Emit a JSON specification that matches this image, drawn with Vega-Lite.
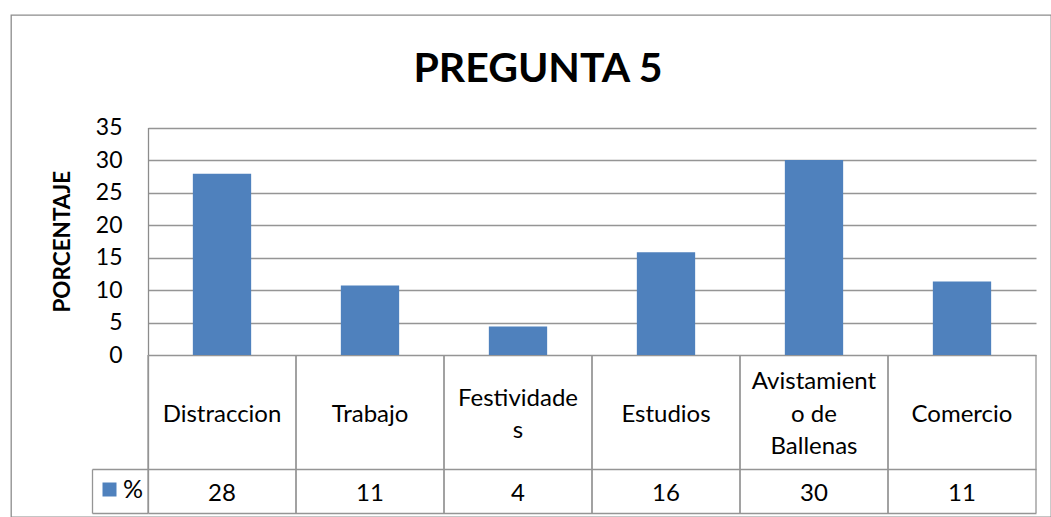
{
  "$schema": "https://vega.github.io/schema/vega-lite/v6.json",
  "width": 1040,
  "height": 502,
  "padding": {"left": 11, "top": 15, "right": 0, "bottom": 0},
  "background": "white",
  "config": {
    "view": {"stroke": "#8c8c8c", "strokeWidth": 1.3},
    "font": "Lato"
  },
  "title": {
    "text": "PREGUNTA 5",
    "font": "Lato",
    "fontSize": 41,
    "fontWeight": "bold",
    "color": "#000000",
    "anchor": "middle",
    "frame": "group",
    "offset": -108,
    "dx": 7,
    "baseline": "alphabetic"
  },
  "data": {
    "values": [
      {"cat": "Distraccion", "label": "Distraccion", "pct": 27.9},
      {"cat": "Trabajo", "label": "Trabajo", "pct": 10.7},
      {"cat": "Festividades", "label": "Festividade\ns", "pct": 4.4},
      {"cat": "Estudios", "label": "Estudios", "pct": 15.8},
      {"cat": "Avistamiento de Ballenas", "label": "Avistamient\no de\nBallenas", "pct": 30},
      {"cat": "Comercio", "label": "Comercio", "pct": 11.3}
    ]
  },
  "encoding": {
    "x": {
      "field": "cat",
      "type": "nominal",
      "sort": null,
      "axis": null,
      "scale": {"range": [137, 1025], "paddingInner": 0, "paddingOuter": 0}
    }
  },
  "resolve": {"scale": {"y": "independent"}, "axis": {"y": "independent"}},
  "layer": [
    {
      "mark": {"type": "bar", "width": {"band": 0.394}},
      "encoding": {
        "y": {
          "field": "pct",
          "type": "quantitative",
          "scale": {"domain": [0, 35], "range": [340, 112.5], "nice": false, "zero": true},
          "axis": {
            "orient": "left",
            "values": [0, 5, 10, 15, 20, 25, 30, 35],
            "offset": -137,
            "ticks": false,
            "domainColor": "#8c8c8c",
            "domainWidth": 1.3,
            "grid": true,
            "gridColor": "#959595",
            "gridWidth": 1.3,
            "labelFont": "Lato",
            "labelFontSize": 23,
            "labelColor": "#000000",
            "labelPadding": 26,
            "title": "PORCENTAJE",
            "titleFont": "Lato",
            "titleFontSize": 22.5,
            "titleFontWeight": "bold",
            "titleColor": "#000000",
            "titlePadding": 21
          }
        },
        "color": {
          "datum": "%",
          "scale": {"range": ["#4F81BD"]},
          "legend": {
            "orient": "none",
            "legendX": 86,
            "legendY": 462,
            "title": null,
            "padding": 0,
            "symbolType": "square",
            "symbolSize": 196,
            "symbolStrokeWidth": 0,
            "labelFont": "Lato",
            "labelFontSize": 25,
            "labelColor": "#000000",
            "labelOffset": 1
          }
        }
      }
    },
    {
      "encoding": {
        "y": {
          "datum": 0,
          "type": "quantitative",
          "scale": {"domain": [-24.31, 0], "range": [498, 340], "nice": false, "zero": false},
          "axis": {
            "orient": "left",
            "values": [-24.31, -17.54],
            "offset": -137,
            "labels": false,
            "ticks": true,
            "tickSize": 56,
            "tickColor": "#959595",
            "tickWidth": 1.3,
            "domain": true,
            "domainColor": "#959595",
            "domainWidth": 1.3,
            "grid": true,
            "gridColor": "#959595",
            "gridWidth": 1.3,
            "title": null
          }
        }
      },
      "layer": [
        {
          "mark": {"type": "rule", "color": "#959595", "strokeWidth": 1.3},
          "encoding": {
            "x": {"field": "cat", "type": "nominal", "sort": null, "bandPosition": 0},
            "y2": {"datum": -24.31}
          }
        },
        {
          "mark": {"type": "rule", "color": "#959595", "strokeWidth": 1.3},
          "encoding": {
            "x": {"field": "cat", "type": "nominal", "sort": null, "bandPosition": 1},
            "y2": {"datum": -24.31}
          }
        },
        {
          "transform": [{"filter": "indexof(datum.label, '\\n') < 0"}],
          "mark": {"type": "text", "font": "Lato", "fontSize": 24, "baseline": "middle", "align": "center", "color": "#000000"},
          "encoding": {
            "text": {"field": "label"},
            "y": {"datum": -9.2}
          }
        },
        {
          "transform": [{"filter": "indexof(datum.label, '\\n') >= 0 && indexof(datum.label, '\\n') == lastindexof(datum.label, '\\n')"}],
          "mark": {"type": "text", "lineBreak": "\n", "font": "Lato", "fontSize": 24, "lineHeight": 32.5, "baseline": "middle", "align": "center", "color": "#000000"},
          "encoding": {
            "text": {"field": "label"},
            "y": {"datum": -6.7}
          }
        },
        {
          "transform": [{"filter": "indexof(datum.label, '\\n') != lastindexof(datum.label, '\\n')"}],
          "mark": {"type": "text", "lineBreak": "\n", "font": "Lato", "fontSize": 24, "lineHeight": 32.5, "baseline": "middle", "align": "center", "color": "#000000"},
          "encoding": {
            "text": {"field": "label"},
            "y": {"datum": -4.2}
          }
        }
      ]
    },
    {
      "mark": {"type": "text", "font": "Lato", "fontSize": 24, "baseline": "middle", "align": "center", "color": "#000000"},
      "encoding": {
        "text": {"field": "pct", "format": ".0f"},
        "y": {
          "datum": -21.4,
          "type": "quantitative",
          "scale": {"domain": [-24.31, -17.54], "range": [498, 454], "nice": false, "zero": false},
          "axis": {
            "orient": "left",
            "offset": -81,
            "labels": false,
            "ticks": false,
            "grid": false,
            "domain": true,
            "domainColor": "#959595",
            "domainWidth": 1.3,
            "title": null
          }
        }
      }
    }
  ]
}
